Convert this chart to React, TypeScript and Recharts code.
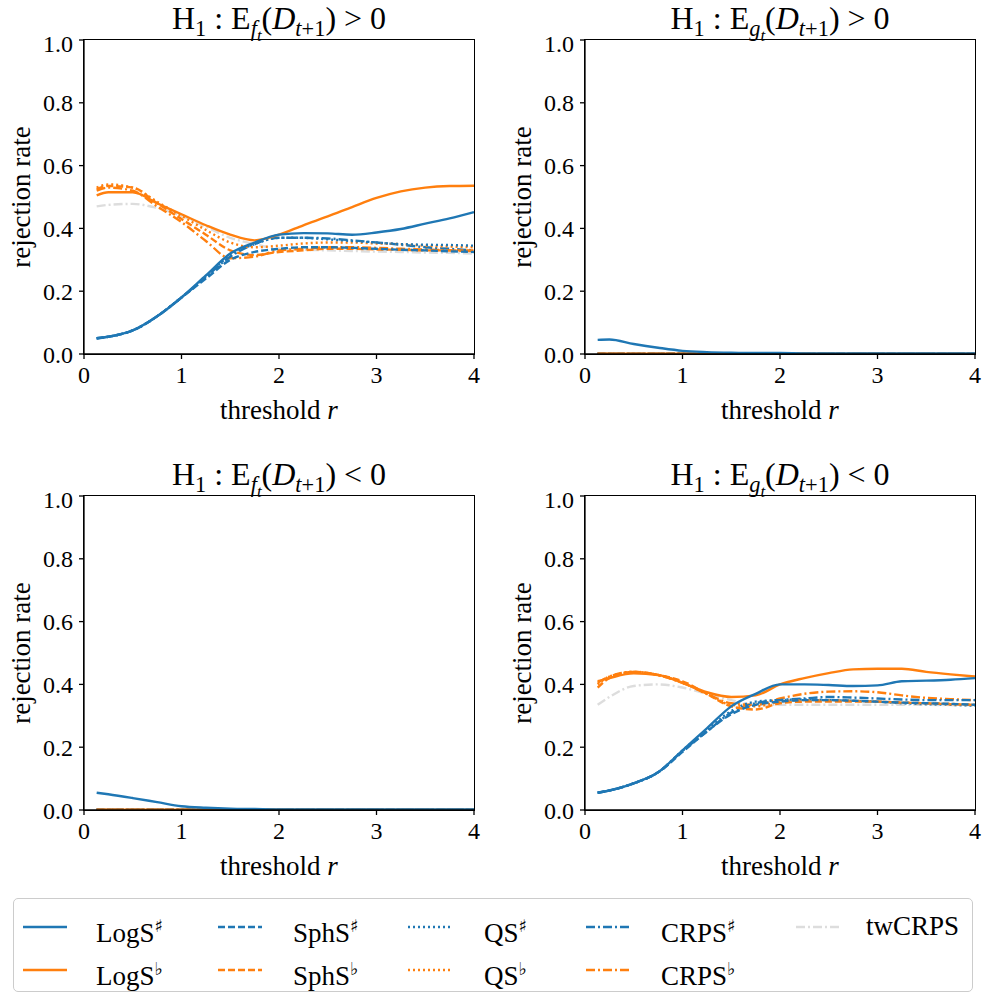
import { Line, LineChart, XAxis, YAxis } from 'recharts'

const FONT = '"Liberation Serif", "DejaVu Serif", serif'
const BLUE = '#1f77b4'
const ORANGE = '#ff7f0e'
const GREY = '#dddddd'

// thresholds r at which the rejection rates are read
const thresholds = [0.13, 0.25, 0.5, 0.75, 1, 1.25, 1.5, 1.75, 2, 2.25, 2.5, 2.75, 3, 3.25, 3.5, 3.75, 4]

// H1: E_f(D) > 0
const fPosLogSharp = [0.05, 0.055, 0.075, 0.12, 0.18, 0.25, 0.32, 0.355, 0.38, 0.385, 0.384, 0.38, 0.387, 0.398, 0.415, 0.432, 0.452]
const fPosLogFlat = [0.505, 0.515, 0.515, 0.48, 0.445, 0.41, 0.38, 0.362, 0.38, 0.41, 0.438, 0.468, 0.497, 0.518, 0.53, 0.535, 0.536]
const fPosSphSharp = [0.05, 0.055, 0.075, 0.12, 0.18, 0.24, 0.3, 0.325, 0.335, 0.34, 0.34, 0.338, 0.335, 0.332, 0.33, 0.327, 0.325]
const fPosSphFlat = [0.525, 0.535, 0.53, 0.48, 0.43, 0.38, 0.33, 0.315, 0.325, 0.33, 0.335, 0.335, 0.333, 0.332, 0.33, 0.33, 0.33]
const fPosQsSharp = [0.05, 0.055, 0.075, 0.12, 0.18, 0.245, 0.315, 0.35, 0.37, 0.37, 0.365, 0.36, 0.355, 0.35, 0.348, 0.347, 0.345]
const fPosQsFlat = [0.53, 0.54, 0.53, 0.485, 0.44, 0.395, 0.355, 0.34, 0.345, 0.352, 0.355, 0.355, 0.352, 0.35, 0.345, 0.342, 0.34]
const fPosCrpsSharp = [0.05, 0.055, 0.075, 0.12, 0.18, 0.245, 0.31, 0.35, 0.37, 0.37, 0.368, 0.362, 0.355, 0.348, 0.34, 0.335, 0.33]
const fPosCrpsFlat = [0.52, 0.53, 0.52, 0.47, 0.42, 0.36, 0.305, 0.31, 0.33, 0.335, 0.34, 0.34, 0.338, 0.335, 0.333, 0.33, 0.328]
const fPosTw = [0.47, 0.475, 0.478, 0.465, 0.44, 0.405, 0.37, 0.35, 0.335, 0.332, 0.33, 0.328, 0.326, 0.325, 0.323, 0.322, 0.32]

// H1: E_g(D) > 0 and E_f(D) < 0 — everything but LogS# sits on zero
const gPosLogSharp = [0.045, 0.046, 0.032, 0.02, 0.01, 0.006, 0.004, 0.003, 0.003, 0.002, 0.002, 0.002, 0.002, 0.002, 0.002, 0.002, 0.002]
const fNegLogSharp = [0.055, 0.05, 0.038, 0.025, 0.012, 0.007, 0.004, 0.003, 0.002, 0.002, 0.002, 0.002, 0.002, 0.002, 0.002, 0.002, 0.002]
const nearZero = [0.001, 0.001, 0.001, 0.001, 0.001, 0.001, 0.001, 0.001, 0.001, 0.001, 0.001, 0.001, 0.001, 0.001, 0.001, 0.001, 0.001]

// H1: E_g(D) < 0
const gNegLogSharp = [0.055, 0.062, 0.085, 0.12, 0.19, 0.26, 0.33, 0.37, 0.4, 0.4, 0.398, 0.395, 0.397, 0.41, 0.412, 0.415, 0.42]
const gNegLogFlat = [0.41, 0.42, 0.435, 0.43, 0.405, 0.375, 0.36, 0.365, 0.4, 0.42, 0.436, 0.448, 0.45, 0.45, 0.44, 0.432, 0.425]
const gNegSphSharp = [0.055, 0.062, 0.085, 0.12, 0.185, 0.25, 0.305, 0.335, 0.345, 0.35, 0.35, 0.348, 0.345, 0.342, 0.34, 0.338, 0.335]
const gNegSphFlat = [0.39, 0.42, 0.44, 0.43, 0.41, 0.37, 0.33, 0.32, 0.34, 0.345, 0.345, 0.345, 0.345, 0.342, 0.34, 0.337, 0.335]
const gNegQsSharp = [0.055, 0.062, 0.085, 0.12, 0.19, 0.255, 0.315, 0.345, 0.35, 0.352, 0.35, 0.348, 0.345, 0.34, 0.337, 0.335, 0.332]
const gNegQsFlat = [0.4, 0.425, 0.44, 0.43, 0.405, 0.37, 0.335, 0.33, 0.345, 0.35, 0.35, 0.348, 0.345, 0.342, 0.34, 0.338, 0.335]
const gNegCrpsSharp = [0.055, 0.062, 0.085, 0.12, 0.188, 0.25, 0.31, 0.34, 0.35, 0.355, 0.36, 0.358, 0.355, 0.352, 0.35, 0.35, 0.35]
const gNegCrpsFlat = [0.405, 0.425, 0.44, 0.43, 0.405, 0.37, 0.34, 0.335, 0.355, 0.37, 0.377, 0.378, 0.375, 0.365, 0.357, 0.353, 0.35]
const gNegTw = [0.335, 0.36, 0.395, 0.4, 0.39, 0.37, 0.35, 0.335, 0.335, 0.335, 0.335, 0.335, 0.335, 0.335, 0.335, 0.334, 0.333]

const xTicks = [0, 1, 2, 3, 4]
const yTicks = [0, 0.2, 0.4, 0.6, 0.8, 1]

type Style = { key: string; name: string; sup: string; color: string; dash?: string }

const series: Style[] = [
  { key: 'twcrps', name: 'twCRPS', sup: '', color: GREY, dash: '9 3 2 3' },
  { key: 'crpsFlat', name: 'CRPS', sup: '♭', color: ORANGE, dash: '9 3 2 3' },
  { key: 'crpsSharp', name: 'CRPS', sup: '♯', color: BLUE, dash: '9 3 2 3' },
  { key: 'qsFlat', name: 'QS', sup: '♭', color: ORANGE, dash: '2 3' },
  { key: 'qsSharp', name: 'QS', sup: '♯', color: BLUE, dash: '2 3' },
  { key: 'sphFlat', name: 'SphS', sup: '♭', color: ORANGE, dash: '7 3' },
  { key: 'sphSharp', name: 'SphS', sup: '♯', color: BLUE, dash: '7 3' },
  { key: 'logFlat', name: 'LogS', sup: '♭', color: ORANGE },
  { key: 'logSharp', name: 'LogS', sup: '♯', color: BLUE },
]

function rows(cols: Record<string, number[]>) {
  return thresholds.map((r, i) => {
    const row: Record<string, number> = { r }
    for (const k in cols) row[k] = cols[k][i]
    return row
  })
}

const panels = [
  {
    left: 84, top: 40, g: false, op: '>',
    data: rows({
      logSharp: fPosLogSharp, logFlat: fPosLogFlat, sphSharp: fPosSphSharp, sphFlat: fPosSphFlat,
      qsSharp: fPosQsSharp, qsFlat: fPosQsFlat, crpsSharp: fPosCrpsSharp, crpsFlat: fPosCrpsFlat, twcrps: fPosTw,
    }),
  },
  {
    left: 585, top: 40, g: true, op: '>',
    data: rows({
      logSharp: gPosLogSharp, logFlat: nearZero, sphSharp: nearZero, sphFlat: nearZero,
      qsSharp: nearZero, qsFlat: nearZero, crpsSharp: nearZero, crpsFlat: nearZero, twcrps: nearZero,
    }),
  },
  {
    left: 84, top: 496, g: false, op: '<',
    data: rows({
      logSharp: fNegLogSharp, logFlat: nearZero, sphSharp: nearZero, sphFlat: nearZero,
      qsSharp: nearZero, qsFlat: nearZero, crpsSharp: nearZero, crpsFlat: nearZero, twcrps: nearZero,
    }),
  },
  {
    left: 585, top: 496, g: true, op: '<',
    data: rows({
      logSharp: gNegLogSharp, logFlat: gNegLogFlat, sphSharp: gNegSphSharp, sphFlat: gNegSphFlat,
      qsSharp: gNegQsSharp, qsFlat: gNegQsFlat, crpsSharp: gNegCrpsSharp, crpsFlat: gNegCrpsFlat, twcrps: gNegTw,
    }),
  },
]

const PW = 390
const PH = 314
const tick = { fill: '#000', fontSize: 24, fontFamily: FONT }
const axisStroke = { stroke: '#000', strokeWidth: 1.3 }

function Title({ g, op }: { g: boolean; op: string }) {
  return (
    <span>
      H<sub style={{ fontSize: '0.7em', lineHeight: 0 }}>1</sub> : E
      <sub style={{ fontSize: '0.7em', lineHeight: 0 }}>
        <i>{g ? 'g' : 'f'}</i>
        <sub style={{ fontSize: '0.75em', lineHeight: 0 }}><i>t</i></sub>
      </sub>
      (<i>D</i>
      <sub style={{ fontSize: '0.7em', lineHeight: 0 }}><i>t</i>+1</sub>) {op} 0
    </span>
  )
}

function Panel({ left, top, g, op, data }: (typeof panels)[number]) {
  return (
    <>
      <div style={{ position: 'absolute', left, top: top - 40, width: PW, textAlign: 'center', fontSize: 32, lineHeight: '36px' }}>
        <Title g={g} op={op} />
      </div>
      <div style={{ position: 'absolute', left: left - 70, top: top - 10 }}>
        <LineChart width={PW + 80} height={PH + 70} data={data} margin={{ top: 10, right: 10, left: 0, bottom: 0 }}>
          <XAxis
            dataKey="r"
            type="number"
            domain={[0, 4]}
            ticks={xTicks}
            tick={tick}
            tickSize={5}
            tickMargin={7}
            height={60}
            axisLine={axisStroke}
            tickLine={axisStroke}
          />
          <YAxis
            type="number"
            domain={[0, 1]}
            ticks={yTicks}
            tickFormatter={(v: number) => v.toFixed(1)}
            tick={tick}
            tickSize={5}
            tickMargin={6}
            width={70}
            axisLine={axisStroke}
            tickLine={axisStroke}
          />
          {series.map((s) => (
            <Line
              key={s.key}
              dataKey={s.key}
              type="monotone"
              stroke={s.color}
              strokeWidth={2.4}
              strokeDasharray={s.dash}
              dot={false}
              isAnimationActive={false}
            />
          ))}
        </LineChart>
      </div>
      {/* matplotlib-style box around the axes */}
      <div
        style={{
          position: 'absolute',
          left: left - 0.65,
          top: top - 0.65,
          width: PW + 1.3,
          height: PH + 1.3,
          border: '1.3px solid #000',
          boxSizing: 'border-box',
          pointerEvents: 'none',
        }}
      />
      <div style={{ position: 'absolute', left, top: top + PH + 41, width: PW, textAlign: 'center', fontSize: 27 }}>
        threshold <i>r</i>
      </div>
      <div
        style={{
          position: 'absolute',
          left: left - 84 + 21,
          top: top + PH / 2,
          transform: 'translate(-50%, -50%) rotate(-90deg)',
          fontSize: 27,
          whiteSpace: 'nowrap',
        }}
      >
        rejection rate
      </div>
    </>
  )
}

const legendOrder = ['logSharp', 'logFlat', 'sphSharp', 'sphFlat', 'qsSharp', 'qsFlat', 'crpsSharp', 'crpsFlat', 'twcrps']
const colLineX = [9, 204, 394, 572, 782]
const colTextX = [82, 279, 470, 647, 852]
const rowY = [28, 71]

function Legend() {
  return (
    <div
      style={{
        position: 'absolute',
        left: 13,
        top: 898,
        width: 958,
        height: 92,
        border: '1.5px solid #cccccc',
        borderRadius: 5,
      }}
    >
      {legendOrder.map((k, i) => {
        const s = series.find((x) => x.key === k)!
        const col = Math.floor(i / 2)
        const row = i % 2
        return (
          <div key={k}>
            <svg style={{ position: 'absolute', left: colLineX[col], top: rowY[row] - 5 }} width={44} height={10}>
              <line x1={0} y1={5} x2={44} y2={5} stroke={s.color} strokeWidth={2.4} strokeDasharray={s.dash} />
            </svg>
            <div style={{ position: 'absolute', left: colTextX[col], top: rowY[row] - 18, fontSize: 27, lineHeight: '34px', whiteSpace: 'nowrap' }}>
              {s.name}
              {s.sup && <sup style={{ fontSize: '0.65em', fontFamily: '"DejaVu Serif", serif' }}>{s.sup}</sup>}
            </div>
          </div>
        )
      })}
    </div>
  )
}

export default function App() {
  return (
    <div style={{ position: 'absolute', left: 0, top: 0, width: 982, height: 994, background: '#fff', fontFamily: FONT, color: '#000' }}>
      {panels.map((p, i) => (
        <Panel key={i} {...p} />
      ))}
      <Legend />
    </div>
  )
}
